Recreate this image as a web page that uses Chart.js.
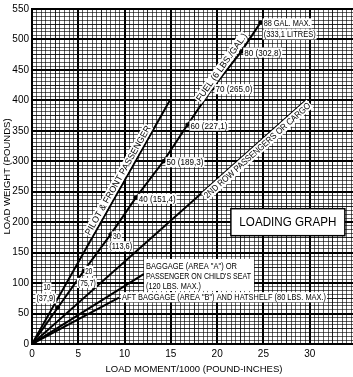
<!DOCTYPE html>
<html><head><meta charset="utf-8">
<script src="https://cdn.jsdelivr.net/npm/chart.js@4.4.0/dist/chart.umd.min.js"></script>
<style>
html,body{margin:0;padding:0;background:#fff;overflow:hidden;width:353px;height:377px}
#wrap{position:relative;width:360px;height:377px}
canvas{display:block}
</style></head><body>
<div id="wrap"><canvas id="c" width="360" height="377"></canvas></div>
<script>
// ---- data ----
const xTickLabels = [0, 5, 10, 15, 20, 25, 30];
const yTickLabels = [0, 50, 100, 150, 200, 250, 300, 350, 400, 450, 500, 550];

const pilotMoment = [0, 14.9];
const pilotWeight = [0, 400];

const fuelGallons = [0, 10, 20, 30, 40, 50, 60, 70, 80, 88];
const fuelLitres  = ['', '37,9', '75,7', '113,6', '151,4', '189,3', '227,1', '265,0', '302,8', '333,1'];
const fuelWeight  = [0, 60, 120, 180, 240, 300, 360, 420, 480, 528];
const fuelMoment  = [0, 2.8, 5.6, 8.5, 11.2, 14.2, 16.8, 19.5, 22.6, 24.7];

const rowMoment = [0, 29.6];
const rowWeight = [0, 400];

const bagAMoment = [0, 12.1];
const bagAWeight = [0, 115];

const bagBMoment = [0, 9.4];
const bagBWeight = [0, 76];

const FONT = "'Liberation Sans Narrow', 'Liberation Sans', Arial, sans-serif";
const near = (v, s) => Math.abs(v / s - Math.round(v / s)) < 1e-6;
const pts = (xs, ys) => xs.map((v, i) => ({x: v, y: ys[i]}));

function lineDs(xs, ys, extra) {
  return Object.assign({data: pts(xs, ys), showLine: true, borderColor: '#000', borderWidth: 2,
    pointRadius: 0, fill: false, tension: 0}, extra || {});
}

function drawText(ctx, text, x, y, o) {
  o = o || {};
  const size = o.size || 9;
  ctx.save();
  ctx.font = (o.weight || '') + ' ' + size + 'px ' + (o.family || FONT);
  const nat = ctx.measureText(text).width;
  const sx = o.width ? o.width / nat : 1;
  const w = nat * sx;
  let left = x;
  if (o.align === 'center') left = x - w / 2;
  if (o.align === 'right') left = x - w;
  const h = size * 0.9;
  if (o.bg !== false) {
    ctx.fillStyle = '#fff';
    ctx.fillRect(left - 1, y - h / 2 - 1, w + 2, h + 2);
  }
  ctx.translate(left, y);
  ctx.scale(sx, 1);
  ctx.fillStyle = '#000';
  ctx.textAlign = 'left';
  ctx.textBaseline = 'middle';
  ctx.fillText(text, 0, 0.5);
  ctx.restore();
}

function drawAlong(ctx, text, xs, ys, t, off, o, sc) {
  const x0 = sc.x.getPixelForValue(xs[0]), y0 = sc.y.getPixelForValue(ys[0]);
  const x1 = sc.x.getPixelForValue(xs[1]), y1 = sc.y.getPixelForValue(ys[1]);
  const dx = x1 - x0, dy = y1 - y0, len = Math.hypot(dx, dy);
  const nx = dy / len, ny = -dx / len;
  const cx = x0 + dx * t + nx * off, cy = y0 + dy * t + ny * off;
  ctx.save();
  ctx.translate(cx, cy);
  ctx.rotate(Math.atan2(dy, dx));
  drawText(ctx, text, 0, 0, Object.assign({align: 'center'}, o));
  ctx.restore();
}

const annotations = {
  id: 'annot',
  afterDatasetsDraw(chart) {
    const ctx = chart.ctx, sc = chart.scales;
    const px = v => sc.x.getPixelForValue(v), py = w => sc.y.getPixelForValue(w);

    // rotated line labels
    drawAlong(ctx, 'PILOT & FRONT PASSENGER', pilotMoment, pilotWeight, 0.66, 6, {width: 124, size: 9}, sc);
    drawAlong(ctx, 'FUEL (6 LBS./GAL.)', [fuelMoment[0], fuelMoment[9]], [fuelWeight[0], fuelWeight[9]], 0.85, 6, {width: 81, size: 9}, sc);
    drawAlong(ctx, '2ND ROW PASSENGERS OR CARGO', rowMoment, rowWeight, 0.81, -5, {width: 139, size: 9}, sc);

    // fuel quantity labels
    for (let i = 1; i < fuelGallons.length; i++) {
      const mx = px(fuelMoment[i]), my = py(fuelWeight[i]);
      const g = String(fuelGallons[i]), l = '(' + fuelLitres[i] + ')';
      if (i === 1) {
        drawText(ctx, g, mx - 11, my - 20, {align: 'center', width: 7});
        drawText(ctx, l, mx - 12, my - 9, {align: 'center', width: 19});
      } else if (i === 2) {
        drawText(ctx, g, mx + 5, my, {align: 'center', width: 7});
        drawText(ctx, l, mx + 3, my + 12, {align: 'center', width: 18});
      } else if (i === 3) {
        drawText(ctx, g, mx + 6, my + 2, {align: 'center', width: 8});
        drawText(ctx, l, mx + 10, my + 12, {align: 'center', width: 23});
      } else if (i === fuelGallons.length - 1) {
        drawText(ctx, g + ' GAL. MAX.', mx + 3, my + 1, {width: 47});
        drawText(ctx, '(' + fuelLitres[i] + ' LITRES)', mx + 3, my + 12, {width: 52});
      } else {
        drawText(ctx, g + ' ' + l, mx + 3, my + 1, {width: 37});
      }
    }

    // baggage labels
    const bx = px(bagAMoment[1]) + 2, by = py(bagAWeight[1]);
    ctx.fillStyle = '#fff';
    ctx.fillRect(bx - 2, by - 15, 110, 32);
    drawText(ctx, 'BAGGAGE (AREA "A") OR', bx, by - 8, {width: 91});
    drawText(ctx, "PASSENGER ON CHILD'S SEAT", bx, by + 2, {width: 105});
    drawText(ctx, '(120 LBS. MAX.)', bx, by + 12, {width: 55});
    drawText(ctx, 'AFT BAGGAGE (AREA "B") AND HATSHELF (80 LBS. MAX.)', px(bagBMoment[1]) + 3, py(bagBWeight[1]) - 0.5, {width: 204});

    // loading graph box
    const cx = px(27.64), cy = py(200);
    ctx.save();
    ctx.fillStyle = '#fff';
    ctx.fillRect(cx - 57, cy - 13.5, 114, 27);
    ctx.strokeStyle = '#000';
    ctx.lineWidth = 1.5;
    ctx.strokeRect(cx - 57, cy - 13.5, 114, 27);
    ctx.restore();
    drawText(ctx, 'LOADING GRAPH', cx, cy, {align: 'center', width: 97, size: 12.5, family: "'Liberation Sans', Arial, sans-serif", bg: false});
  }
};

const gridColor = (step5, step25) => c => {
  const v = c.tick ? c.tick.value : 0;
  if (near(v, step5)) return '#000';
  if (near(v, step25)) return 'rgba(0,0,0,0.85)';
  return 'rgba(0,0,0,0.62)';
};
const gridWidth = (step5) => c => {
  const v = c.tick ? c.tick.value : 0;
  return near(v, step5) ? 2 : 1;
};

new Chart(document.getElementById('c'), {
  type: 'scatter',
  data: {
    datasets: [
      lineDs(pilotMoment, pilotWeight),
      lineDs(fuelMoment, fuelWeight, {pointRadius: c => c.dataIndex > 0 ? 2.2 : 0, pointStyle: 'circle',
        pointBackgroundColor: '#000', pointBorderColor: '#000', pointBorderWidth: 0}),
      lineDs(rowMoment, rowWeight),
      lineDs(bagAMoment, bagAWeight),
      lineDs(bagBMoment, bagBWeight)
    ]
  },
  options: {
    responsive: false, animation: false, devicePixelRatio: 1,
    layout: {padding: {top: 7, right: 0, left: 0, bottom: 0}},
    plugins: {legend: {display: false}, tooltip: {enabled: false}},
    scales: {
      x: {
        type: 'linear', min: 0, max: 35,
        afterFit(s) { s.height = 33; },
        ticks: {stepSize: 0.5, autoSkip: false, maxRotation: 0, minRotation: 0, padding: 4, maxTicksLimit: 1000,
          color: '#000', font: {family: FONT, size: 10},
          callback: v => xTickLabels.find(t => Math.abs(t - v) < 1e-6) !== undefined ? String(Math.round(v)) : ''},
        grid: {drawTicks: false, color: gridColor(5, 2.5), lineWidth: gridWidth(5)},
        border: {display: true, color: '#000', width: 2},
        title: {display: true, text: 'LOAD MOMENT/1000 (POUND-INCHES)', color: '#000',
          font: {family: FONT, size: 9.5}, padding: {top: 0, bottom: 2}}
      },
      y: {
        type: 'linear', min: 0, max: 550,
        afterFit(s) { s.width = 32; },
        ticks: {stepSize: 6.25, autoSkip: false, padding: 3, maxTicksLimit: 1000,
          color: '#000', font: {family: FONT, size: 10},
          callback: v => yTickLabels.find(t => Math.abs(t - v) < 1e-6) !== undefined ? String(Math.round(v)) : ''},
        grid: {drawTicks: false, color: gridColor(50, 25), lineWidth: gridWidth(50)},
        border: {display: true, color: '#000', width: 2},
        title: {display: true, text: 'LOAD WEIGHT (POUNDS)', color: '#000',
          font: {family: FONT, size: 9.5}, padding: {top: 2, bottom: 0}}
      }
    }
  },
  plugins: [annotations]
});
</script>
</body></html>
